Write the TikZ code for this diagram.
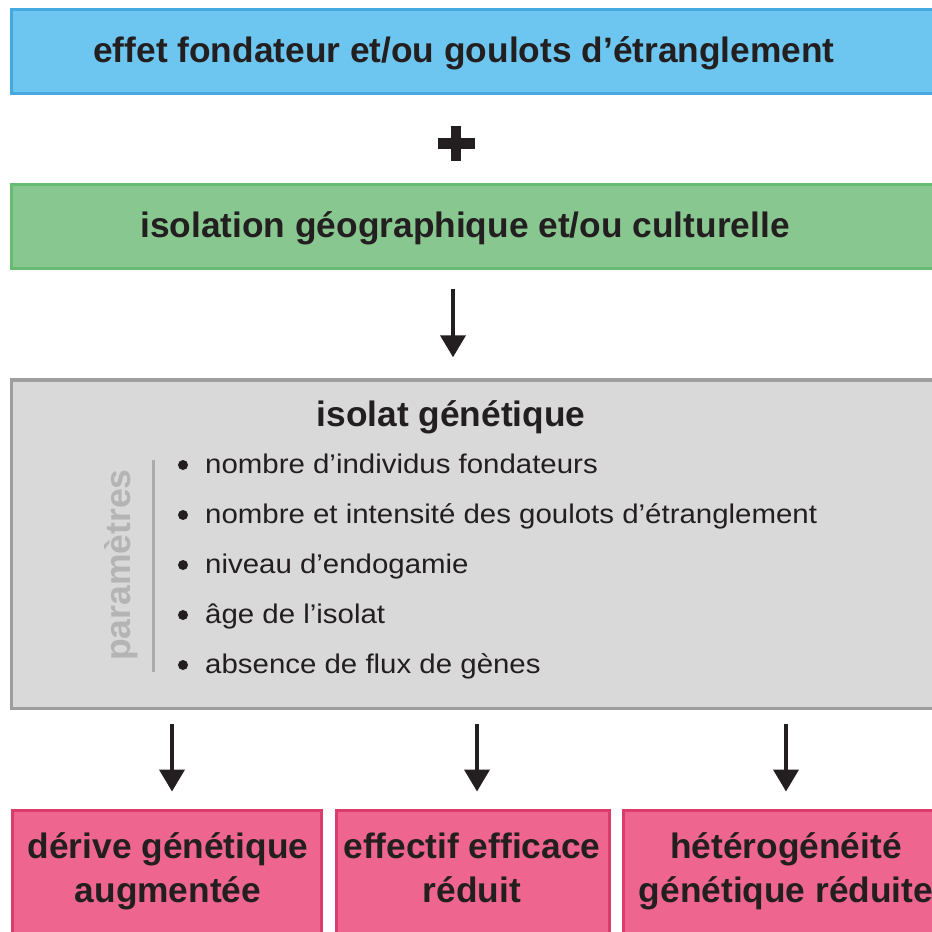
\documentclass[tikz,border=0pt]{standalone}
\usepackage{fontspec}
\setmainfont{Liberation Sans}
\newfontfamily\itemfont[FakeStretch=1.09]{Liberation Sans}
\usetikzlibrary{arrows.meta}
\definecolor{txt}{HTML}{231F20}
\definecolor{bluefill}{HTML}{6DC6EF}
\definecolor{blueline}{HTML}{45A9E0}
\definecolor{greenfill}{HTML}{88C890}
\definecolor{greenline}{HTML}{66BC73}
\definecolor{grayfill}{HTML}{D9D9D9}
\definecolor{grayline}{HTML}{9E9E9E}
\definecolor{pinkfill}{HTML}{EE6690}
\definecolor{pinkline}{HTML}{DA3D6B}
\definecolor{paramgray}{HTML}{B4B4B4}
\begin{document}
\begin{tikzpicture}[x=1pt,y=-1pt,
  box/.style={draw, line width=3pt, inner sep=0pt, rectangle, anchor=center},
  hdr/.style={anchor=base, inner sep=0pt, text=txt, font=\bfseries\fontsize{35.3}{42}\selectfont},
  itm/.style={anchor=base west, inner sep=0pt, text=txt, font=\itemfont\fontsize{27}{32}\selectfont},
  arr/.style={draw=txt, line width=4pt, -{Triangle[width=25pt,length=22pt]}}]
\useasboundingbox (0,0) rectangle (932,932);
\clip (0,0) rectangle (932,932);
% boxes
\node[box, draw=blueline, fill=bluefill, minimum width=948.5pt, minimum height=84pt] (blue) at (485.75,51.5) {};
\node[box, draw=greenline, fill=greenfill, minimum width=948.5pt, minimum height=84pt] (green) at (485.75,226.5) {};
\node[box, draw=grayline, fill=grayfill, line width=3.5pt, minimum width=948.5pt, minimum height=328.5pt] (iso) at (485.75,544) {};
\node[box, draw=pinkline, fill=pinkfill, minimum width=309pt, minimum height=150pt] (pk1) at (167,885.5) {};
\node[box, draw=pinkline, fill=pinkfill, minimum width=273pt, minimum height=150pt] (pk2) at (473,885.5) {};
\node[box, draw=pinkline, fill=pinkfill, minimum width=323pt, minimum height=150pt] (pk3) at (785,885.5) {};
% texts
\node[hdr] (tblue) at (464,62) {effet fondateur et/ou goulots d’étranglement};
\node[hdr] (tgreen) at (465,237) {isolation géographique et/ou culturelle};
\node[hdr] (tiso) at (451,426) {isolat génétique};
\node[hdr] (p1a) at (168,858) {dérive génétique};
\node[hdr] (p1b) at (168,902) {augmentée};
\node[hdr] (p2a) at (472,858) {effectif efficace};
\node[hdr] (p2b) at (472,902) {réduit};
\node[hdr] (p3a) at (786,858) {hétérogénéité};
\node[hdr] (p3b) at (786,902) {génétique réduite};
% plus
\node[inner sep=0pt] (plus) at (456,143.5) {};
\fill[txt] ([xshift=-18.5pt,yshift=-5.5pt]plus.center) rectangle ([xshift=18.5pt,yshift=5.5pt]plus.center);
\fill[txt] ([xshift=-5pt,yshift=-17.5pt]plus.center) rectangle ([xshift=5pt,yshift=17.5pt]plus.center);
% parametres
\node[rotate=90, inner sep=0pt, text=paramgray, font=\bfseries\fontsize{35.5}{42}\selectfont] (param) at (121,565) {paramètres};
\draw[paramgray!95!black, line width=3pt] (153,460) -- (153,672);
% items
\node[itm] (i1) at (205,473) {nombre d’individus fondateurs};
\node[itm] (i2) at (205,523) {nombre et intensité des goulots d’étranglement};
\node[itm] (i3) at (205,573) {niveau d’endogamie};
\node[itm] (i4) at (205,623) {âge de l’isolat};
\node[itm] (i5) at (205,673) {absence de flux de gènes};
\foreach \i in {i1,i2,i3,i4,i5}
  \fill[txt] ([xshift=-22pt,yshift=8pt]\i.base west) circle (5pt);
% arrows
\coordinate (c0) at (453,0);
\coordinate (c1) at (172,0);
\coordinate (c2) at (477,0);
\coordinate (c3) at (786,0);
\draw[arr, shorten <=18.5pt, shorten >=20.75pt] (c0 |- green.south) -- (c0 |- iso.north);
\draw[arr, shorten <=13.75pt, shorten >=17.5pt] (c1 |- iso.south) -- (c1 |- pk1.north);
\draw[arr, shorten <=13.75pt, shorten >=17.5pt] (c2 |- iso.south) -- (c2 |- pk2.north);
\draw[arr, shorten <=13.75pt, shorten >=17.5pt] (c3 |- iso.south) -- (c3 |- pk3.north);
\end{tikzpicture}
\end{document}
